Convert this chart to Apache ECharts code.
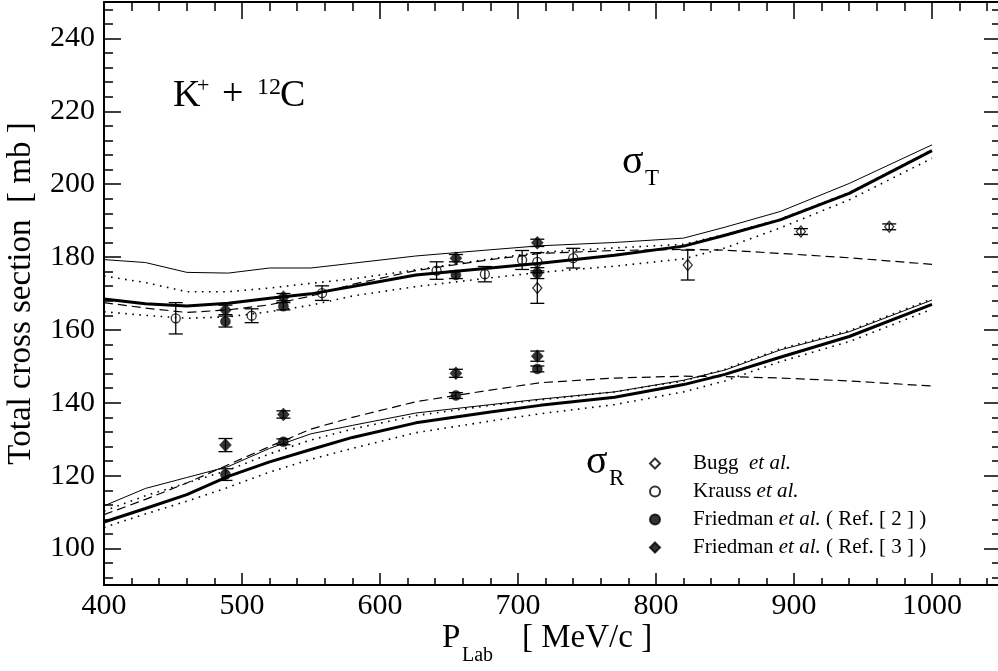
<!DOCTYPE html>
<html>
<head>
<meta charset="utf-8">
<script src="https://cdn.jsdelivr.net/npm/echarts@6/dist/echarts.min.js"></script>
<style>
html,body{margin:0;padding:0;background:#fff;}
#chart{width:998px;height:671px;}
</style>
</head>
<body>
<div id="chart"></div>
<script>
// ---------- tick labels ----------
const xMajor = [400, 500, 600, 700, 800, 900, 1000];
const yMajor = [100, 120, 140, 160, 180, 200, 220, 240];
const xMinor = [];
for (let v = 420; v <= 1040; v += 20) if (v % 100 !== 0) xMinor.push(v);
const yMinor = [];
for (let v = 92; v <= 248; v += 4) if (v % 20 !== 0) yMinor.push(v);

// ---------- theory curves (common momentum grid) ----------
const curveX = [400, 430, 460, 490, 520, 550, 580, 626, 680, 716, 770, 820, 850, 890, 940, 1000];
// sigma_T
const tThin    = [179.3, 178.5, 175.8, 175.6, 177.0, 177.0, 178.3, 180.3, 182.0, 183.1, 184.0, 185.2, 188.2, 192.5, 200.2, 210.8];
const tThick   = [168.5, 167.2, 166.6, 167.3, 168.7, 169.9, 171.9, 175.1, 177.0, 178.3, 180.5, 183.0, 186.0, 190.2, 197.5, 209.2];
const tDashed  = [167.5, 166.0, 164.8, 165.5, 166.9, 169.3, 172.5, 176.3, 179.3, 181.0, 181.8, 182.1, 181.9, 181.0, 179.8, 178.0];
const tDotUp   = [174.8, 173.0, 170.5, 170.5, 171.5, 172.8, 174.0, 176.5, 179.5, 181.3, 182.5, 183.5, 186.2, 190.4, 197.7, 209.4];
const tDotLow  = [165.0, 164.0, 163.2, 163.6, 165.0, 166.8, 169.3, 171.9, 174.3, 175.8, 177.5, 179.5, 182.5, 188.0, 195.7, 207.1];
// sigma_R
const rThin    = [111.7, 116.5, 119.5, 122.5, 127.5, 131.5, 133.8, 137.2, 139.5, 141.0, 143.0, 146.2, 149.0, 154.5, 159.5, 168.2];
const rThick   = [107.3, 111.0, 114.8, 119.8, 123.8, 127.2, 130.5, 134.5, 137.5, 139.3, 141.5, 145.0, 147.8, 152.5, 158.2, 167.0];
const rDashed  = [109.3, 113.5, 118.0, 123.0, 128.0, 132.8, 136.0, 140.3, 143.5, 145.5, 146.8, 147.3, 147.2, 146.8, 146.0, 144.6];
const rDotUp   = [110.3, 114.5, 118.0, 121.5, 126.0, 129.8, 132.8, 136.5, 139.3, 140.8, 143.0, 146.0, 149.2, 154.8, 159.8, 168.5];
const rDotLow  = [105.8, 109.5, 113.0, 116.8, 121.0, 124.5, 127.5, 131.8, 135.0, 137.0, 139.5, 143.0, 146.0, 151.3, 156.8, 165.7];

// ---------- data points ----------
const buggX   = [714, 823, 905, 969];
const buggY   = [171.5, 177.8, 187.0, 188.3];
const buggErr = [4.2, 4.1, 0.8, 0.8];

const kraussX   = [452, 507, 558, 641, 676, 703, 714, 740];
const kraussY   = [163.2, 163.9, 170.1, 176.3, 175.3, 179.2, 178.7, 179.7];
const kraussErr = [4.3, 1.9, 2.0, 2.4, 2.1, 2.6, 2.5, 2.7];

const fr2X   = [488, 530, 655, 714, 488, 530, 655, 714];
const fr2Y   = [162.3, 166.5, 175.1, 175.6, 120.3, 129.3, 142.0, 149.3];
const fr2Err = [1.5, 1.0, 1.0, 1.5, 1.6, 0.8, 0.8, 0.8];

const fr3X   = [488, 530, 655, 714, 488, 530, 655, 714];
const fr3Y   = [165.5, 169.0, 179.7, 183.9, 128.4, 136.8, 148.1, 152.8];
const fr3Err = [1.3, 1.0, 1.0, 1.0, 1.8, 1.0, 1.1, 1.4];

const legendNames = ['Bugg', 'Krauss', 'Friedman2', 'Friedman3'];
const legendLabels = {
  'Bugg': 'Bugg  {i|et al.}',
  'Krauss': 'Krauss {i|et al.}',
  'Friedman2': 'Friedman {i|et al.} ( Ref. [ 2 ] )',
  'Friedman3': 'Friedman {i|et al.} ( Ref. [ 3 ] )'
};

// ---------- build ----------
const FONT = 'Liberation Serif';
const pairs = (xs, ys) => xs.map((x, i) => [x, ys[i]]);
const triples = (xs, ys, es) => xs.map((x, i) => [x, ys[i], es[i]]);

function lineSeries(ys, kind) {
  const st = {color: '#000', width: 1};
  if (kind === 'thick') { st.width = 3; }
  if (kind === 'dashed') { st.width = 1.2; st.type = [9, 5]; }
  if (kind === 'dotted') { st.width = 1.6; st.type = [1.6, 5.5]; }
  return {
    type: 'line', data: pairs(curveX, ys), showSymbol: false, symbol: 'none',
    lineStyle: st, silent: true, z: 2, animation: false
  };
}

function errSeries(xs, ys, es) {
  return {
    type: 'custom', data: triples(xs, ys, es), encode: {x: 0, y: 1}, z: 3, silent: true,
    renderItem: function (params, api) {
      const x = api.value(0), y = api.value(1), e = api.value(2);
      const a = api.coord([x, y + e]), b = api.coord([x, y - e]);
      const hw = 7;
      const st = {stroke: '#000', lineWidth: 1.3};
      return {type: 'group', children: [
        {type: 'line', shape: {x1: a[0], y1: a[1], x2: b[0], y2: b[1]}, style: st},
        {type: 'line', shape: {x1: a[0] - hw, y1: a[1], x2: a[0] + hw, y2: a[1]}, style: st},
        {type: 'line', shape: {x1: b[0] - hw, y1: b[1], x2: b[0] + hw, y2: b[1]}, style: st}
      ]};
    }
  };
}

function scatter(name, xs, ys, symbol, size, filled) {
  return {
    name: name, type: 'scatter', data: pairs(xs, ys), symbol: symbol, symbolSize: size, z: 4,
    itemStyle: filled ? {color: '#000', borderColor: '#000', borderWidth: 0.5}
                      : {color: 'rgba(0,0,0,0)', borderColor: '#000', borderWidth: 1.3},
    silent: true
  };
}

const axisLineStyle = {color: '#000', width: 2};
const numFmt = v => String(v);
function xAxisDef(pos, ticks, len, labels) {
  return {
    type: 'value', position: pos, min: 400, max: 1050,
    axisLine: {show: labels !== null, onZero: false, lineStyle: axisLineStyle},
    axisTick: {show: true, inside: true, length: len, customValues: ticks, lineStyle: {color: '#000', width: 1.5}},
    axisLabel: labels ? {show: true, customValues: labels, formatter: numFmt, margin: 6, fontFamily: FONT, fontSize: 30, color: '#000'} : {show: false},
    splitLine: {show: false}
  };
}
function yAxisDef(pos, ticks, len, labels, name) {
  const ax = {
    type: 'value', position: pos, min: 90, max: 250,
    axisLine: {show: labels !== null, onZero: false, lineStyle: axisLineStyle},
    axisTick: {show: true, inside: true, length: len, customValues: ticks, lineStyle: {color: '#000', width: 1.5}},
    axisLabel: labels ? {show: true, customValues: labels, formatter: numFmt, margin: 9, fontFamily: FONT, fontSize: 30, color: '#000'} : {show: false},
    splitLine: {show: false}
  };
  if (name) {
    ax.name = name; ax.nameLocation = 'middle'; ax.nameGap = 66;
    ax.nameTextStyle = {fontFamily: FONT, fontSize: 33, color: '#000'};
  }
  return ax;
}

const option = {
  backgroundColor: '#fff',
  animation: false,
  grid: {left: 104, right: -3, top: 2, bottom: 86, containLabel: false, outerBoundsMode: 'none'},
  xAxis: [
    xAxisDef('bottom', xMajor, 12, xMajor),
    xAxisDef('bottom', xMinor, 7, null),
    xAxisDef('top', xMajor, 17, []),
    xAxisDef('top', xMinor, 9, null)
  ],
  yAxis: [
    yAxisDef('left', yMajor, 17, yMajor, 'Total cross section  [ mb ]'),
    yAxisDef('left', yMinor, 9, null),
    yAxisDef('right', yMajor, 17, []),
    yAxisDef('right', yMinor, 9, null)
  ],
  legend: {
    data: legendNames, orient: 'vertical', left: 644, top: 448,
    itemWidth: 10, itemHeight: 10, itemGap: 7, selectedMode: false,
    formatter: n => legendLabels[n],
    textStyle: {fontFamily: FONT, fontSize: 21, color: '#000', padding: [0, 0, 0, 28],
      rich: {i: {fontFamily: FONT, fontSize: 21, fontStyle: 'italic', color: '#000'}}}
  },
  graphic: [
    {type: 'text', x: 173, y: 96, style: {text: 'K', fontFamily: FONT, fontSize: 38, fill: '#000', align: 'left', verticalAlign: 'middle'}},
    {type: 'text', x: 197, y: 86, style: {text: '+', fontFamily: FONT, fontSize: 22, fill: '#000', align: 'left', verticalAlign: 'middle'}},
    {type: 'text', x: 222, y: 95, style: {text: '+', fontFamily: FONT, fontSize: 38, fill: '#000', align: 'left', verticalAlign: 'middle'}},
    {type: 'text', x: 257, y: 88, style: {text: '12', fontFamily: FONT, fontSize: 24, fill: '#000', align: 'left', verticalAlign: 'middle'}},
    {type: 'text', x: 280, y: 96, style: {text: 'C', fontFamily: FONT, fontSize: 38, fill: '#000', align: 'left', verticalAlign: 'middle'}},
    {type: 'text', x: 622, y: 162, style: {text: 'σ', fontFamily: FONT, fontSize: 40, fill: '#000', align: 'left', verticalAlign: 'middle'}},
    {type: 'text', x: 645, y: 179, style: {text: 'T', fontFamily: FONT, fontSize: 23, fill: '#000', align: 'left', verticalAlign: 'middle'}},
    {type: 'text', x: 586, y: 462, style: {text: 'σ', fontFamily: FONT, fontSize: 40, fill: '#000', align: 'left', verticalAlign: 'middle'}},
    {type: 'text', x: 609, y: 479, style: {text: 'R', fontFamily: FONT, fontSize: 23, fill: '#000', align: 'left', verticalAlign: 'middle'}},
    {type: 'text', x: 442, y: 638, style: {text: 'P', fontFamily: FONT, fontSize: 33, fill: '#000', align: 'left', verticalAlign: 'middle'}},
    {type: 'text', x: 462, y: 656, style: {text: 'Lab', fontFamily: FONT, fontSize: 20, fill: '#000', align: 'left', verticalAlign: 'middle'}},
    {type: 'text', x: 522, y: 638, style: {text: '[ MeV/c ]', fontFamily: FONT, fontSize: 33, fill: '#000', align: 'left', verticalAlign: 'middle'}}
  ],
  series: [
    lineSeries(tThin, 'thin'), lineSeries(tThick, 'thick'), lineSeries(tDashed, 'dashed'),
    lineSeries(tDotUp, 'dotted'), lineSeries(tDotLow, 'dotted'),
    lineSeries(rThin, 'thin'), lineSeries(rThick, 'thick'), lineSeries(rDashed, 'dashed'),
    lineSeries(rDotUp, 'dotted'), lineSeries(rDotLow, 'dotted'),
    errSeries(buggX, buggY, buggErr),
    errSeries(kraussX, kraussY, kraussErr),
    errSeries(fr2X, fr2Y, fr2Err),
    errSeries(fr3X, fr3Y, fr3Err),
    scatter('Bugg', buggX, buggY, 'diamond', [9, 11], false),
    scatter('Krauss', kraussX, kraussY, 'circle', 9, false),
    scatter('Friedman2', fr2X, fr2Y, 'circle', 10, true),
    scatter('Friedman3', fr3X, fr3Y, 'diamond', [12, 13], true)
  ]
};

const chart = echarts.init(document.getElementById('chart'), null, {renderer: 'canvas'});
chart.setOption(option);
</script>
</body>
</html>
